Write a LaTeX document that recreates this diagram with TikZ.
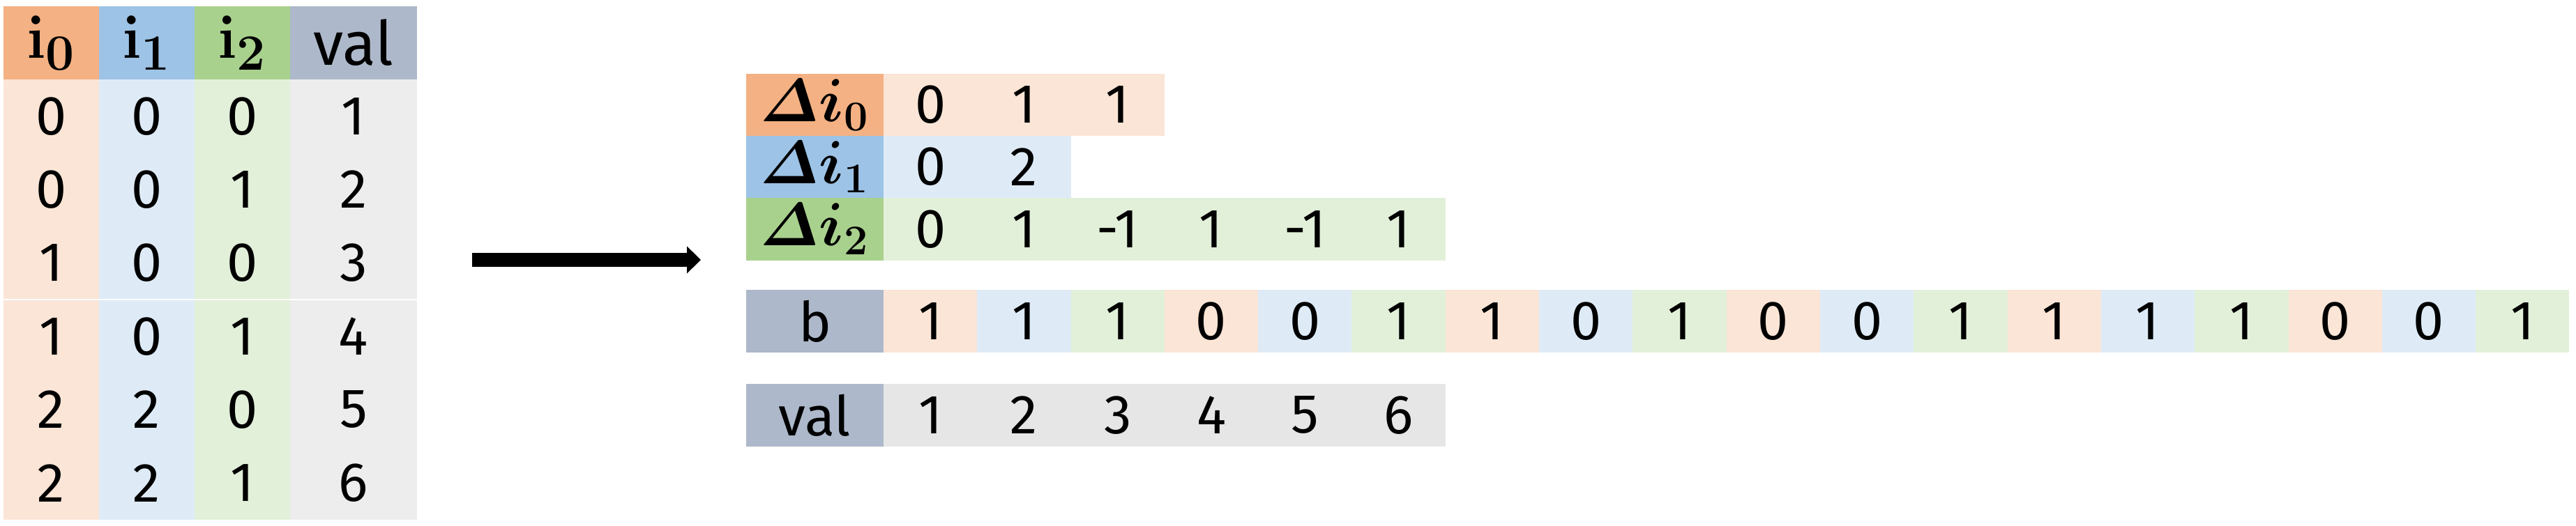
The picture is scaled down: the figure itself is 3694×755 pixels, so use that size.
\documentclass[tikz,border=0pt]{standalone}
\usepackage{amsmath}
\usepackage{bm}
\usepackage[no-math]{fontspec}
\setmainfont{Fira Sans}
\usetikzlibrary{arrows.meta}
\definecolor{cOrange}{RGB}{244,177,131}
\definecolor{cOrangeL}{RGB}{251,229,214}
\definecolor{cBlue}{RGB}{157,195,230}
\definecolor{cBlueL}{RGB}{222,235,247}
\definecolor{cGreen}{RGB}{169,209,142}
\definecolor{cGreenL}{RGB}{226,240,217}
\definecolor{cSlate}{RGB}{173,185,202}
\definecolor{cGrayL}{RGB}{237,237,237}
\definecolor{cGrayM}{RGB}{230,230,230}
\tikzset{
	% left table
	tcell/.style={rectangle, inner sep=0pt, outer sep=0pt, minimum width=1.37cm, minimum height=1.053cm, font=\fontsize{22.5}{27}\selectfont},
	thead/.style={tcell, minimum height=1.05cm, font=\fontsize{25}{30}\selectfont},
	% delta / b / val rows
	vcell/.style={rectangle, inner sep=0pt, outer sep=0pt, minimum width=1.343cm, minimum height=0.895cm, font=\fontsize{22.5}{27}\selectfont},
	vhead/.style={vcell, minimum width=1.97cm, font=\fontsize{25}{30}\selectfont},
	bigarrow/.style={-{Triangle[length=0.2cm, width=0.38cm]}, line width=0.2cm},
}
\begin{document}
\begin{tikzpicture}[x=0.01cm, y=-0.01cm]
	\useasboundingbox (0,0) rectangle (3694,755);
	% coordinate table
	\foreach \c/\lab/\col in {0/{$\mathbf{i_0}$}/cOrange, 1/{$\mathbf{i_1}$}/cBlue, 2/{$\mathbf{i_2}$}/cGreen} {
		\node[thead, fill=\col, font=\fontsize{28}{32}\selectfont] (h\c) at ({73.5+137*\c},61.5) {\lab};
	}
	\node[thead, fill=cSlate, minimum width=1.82cm] (hv) at (507,61.5) {val};
	\foreach \r/\a/\b/\c/\v in {1/0/0/0/1, 2/0/0/1/2, 3/1/0/0/3, 4/1/0/1/4, 5/2/2/0/5, 6/2/2/1/6} {
		\pgfmathsetmacro{\yc}{114+105.33*(\r-0.5)}
		\node[tcell, fill=cOrangeL] (t\r-0) at (73.5,\yc) {\a};
		\node[tcell, fill=cBlueL] (t\r-1) at (210.5,\yc) {\b};
		\node[tcell, fill=cGreenL] (t\r-2) at (347.5,\yc) {\c};
		\node[tcell, fill=cGrayL, minimum width=1.82cm] (t\r-v) at (507,\yc) {\v};
	}
	\draw[white, line width=0.6pt] (5,430) -- (598,430);
	% arrow
	\coordinate (arrS) at (677,373);
	\coordinate (arrE) at (1005,373);
	\draw[bigarrow] (arrS) -- (arrE);
	% delta rows
	\node[vhead, fill=cOrange] (dh0) at (1168.5,150.5) {$\bm{\varDelta i_0}$};
	\node[vhead, fill=cBlue] (dh1) at (1168.5,239.5) {$\bm{\varDelta i_1}$};
	\node[vhead, fill=cGreen] (dh2) at (1168.5,329) {$\bm{\varDelta i_2}$};
	\foreach \v [count=\k] in {0,1,1}
		\node[vcell, fill=cOrangeL] (d0-\k) at ({1267+134.3*(\k-0.5)},150.5) {\v};
	\foreach \v [count=\k] in {0,2}
		\node[vcell, fill=cBlueL] (d1-\k) at ({1267+134.3*(\k-0.5)},239.5) {\v};
	\foreach \v [count=\k] in {0,1,-1,1,-1,1}
		\node[vcell, fill=cGreenL] (d2-\k) at ({1267+134.3*(\k-0.5)},329) {\v};
	% bit row
	\node[vhead, fill=cSlate, font=\fontsize{22.5}{27}\selectfont] (bh) at (1168.5,461) {b};
	\foreach \k/\v/\col in {1/1/cOrangeL, 2/1/cBlueL, 3/1/cGreenL, 4/0/cOrangeL, 5/0/cBlueL, 6/1/cGreenL,
		7/1/cOrangeL, 8/0/cBlueL, 9/1/cGreenL, 10/0/cOrangeL, 11/0/cBlueL, 12/1/cGreenL,
		13/1/cOrangeL, 14/1/cBlueL, 15/1/cGreenL, 16/0/cOrangeL, 17/0/cBlueL, 18/1/cGreenL}
		\node[vcell, fill=\col] (b-\k) at ({1267+134.3*(\k-0.5)},461) {\v};
	% value row
	\node[vhead, fill=cSlate, font=\fontsize{22.5}{27}\selectfont] (vh) at (1168.5,596) {val};
	\foreach \v [count=\k] in {1,2,3,4,5,6}
		\node[vcell, fill=cGrayM] (v-\k) at ({1267+134.3*(\k-0.5)},596) {\v};
\end{tikzpicture}
\end{document}
